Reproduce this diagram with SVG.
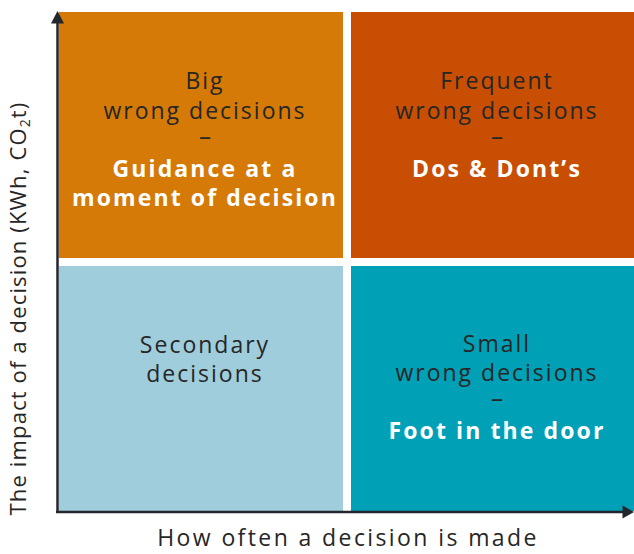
<svg xmlns="http://www.w3.org/2000/svg" width="634" height="554" viewBox="0 0 634 554">
  <style>
    .lbl { font-family: "Open Sans", "DejaVu Sans", sans-serif; font-size: 23px; fill: #262626; text-anchor: middle; letter-spacing: 2px; }
    .dash { font-family: "Open Sans", "DejaVu Sans", sans-serif; font-size: 24px; fill: #262626; text-anchor: middle; }
    .em { font-family: "Open Sans", "DejaVu Sans", sans-serif; font-size: 23px; font-weight: 700; fill: #ffffff; text-anchor: middle; letter-spacing: 2.1px; }
    .axis { stroke: #23262d; stroke-width: 2.5; fill: none; }
    .head { fill: #23262d; }
  </style>

  <!-- quadrants -->
  <g id="big-wrong">
    <rect x="58.75" y="12" width="284.25" height="246" fill="#d57a07"/>
    <text class="lbl" x="205" y="89">Big</text>
    <text class="lbl" x="205" y="119">wrong decisions</text>
    <text class="dash" x="205" y="145">–</text>
    <text class="em" x="205" y="177">Guidance at a</text>
    <text class="em" x="205" y="206">moment of decision</text>
  </g>

  <g id="frequent-wrong">
    <rect x="351" y="12" width="283" height="246" fill="#c84e04"/>
    <text class="lbl" x="497" y="89">Frequent</text>
    <text class="lbl" x="497" y="119">wrong decisions</text>
    <text class="dash" x="497" y="145">–</text>
    <text class="em" x="497" y="177">Dos &amp; Dont’s</text>
  </g>

  <g id="secondary">
    <rect x="58.75" y="266" width="284.25" height="245" fill="#9fcddb"/>
    <text class="lbl" x="205" y="353">Secondary</text>
    <text class="lbl" x="205" y="382">decisions</text>
  </g>

  <g id="small-wrong">
    <rect x="351" y="266" width="283" height="245" fill="#00a0b6"/>
    <text class="lbl" x="497" y="352">Small</text>
    <text class="lbl" x="497" y="381">wrong decisions</text>
    <text class="dash" x="497" y="407">–</text>
    <text class="em" x="497" y="439">Foot in the door</text>
  </g>

  <!-- axes -->
  <g id="connectors">
    <line class="axis" x1="57.5" y1="513" x2="57.5" y2="21"/>
    <polygon class="head" points="51,23.5 57.5,11 64,23.5"/>
    <line class="axis" x1="56" y1="512" x2="625" y2="512"/>
    <polygon class="head" points="622.5,505.5 634,512 622.5,518.5"/>
  </g>

  <g id="axis-labels">
    <text class="lbl" x="348" y="546" style="letter-spacing:2.4px">How often a decision is made</text>
    <text class="lbl" transform="translate(26,308.5) rotate(-90)" style="font-size:22px;letter-spacing:1.15px">The impact of a decision (KWh, CO<tspan font-size="14" dy="4">2</tspan><tspan dy="-4">t)</tspan></text>
  </g>
</svg>
